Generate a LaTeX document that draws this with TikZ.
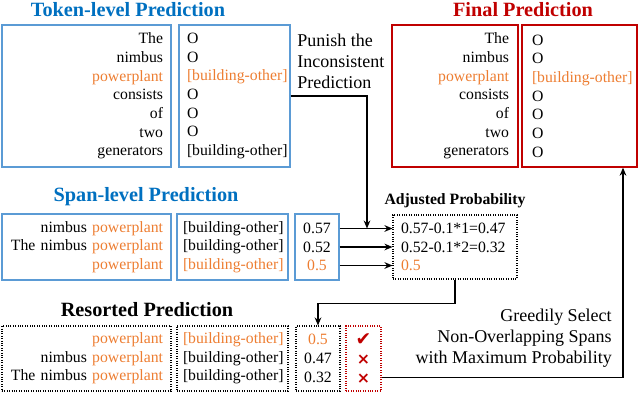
\documentclass[tikz,border=0pt]{standalone}
\usepackage{fontspec}
\setmainfont{Liberation Serif}
\newfontfamily\symfont{DejaVu Sans}
\usetikzlibrary{arrows.meta, calc}
\definecolor{tokblue}{RGB}{0,112,192}
\definecolor{boxblue}{RGB}{91,155,213}
\definecolor{finred}{RGB}{192,0,0}
\definecolor{spanorange}{RGB}{237,125,49}
\newcommand{\hl}[1]{\textcolor{spanorange}{#1}}
\newcommand{\bldg}{\mbox{[building-other]}}
\tikzset{
  body/.style={font=\rmfamily\fontsize{11.8}{14}\selectfont, inner ysep=2pt},
  title/.style={font=\rmfamily\fontsize{15.2}{18}\selectfont\bfseries},
  bluebox/.style={body, draw=boxblue, line width=1pt},
  redbox/.style={body, draw=finred, line width=1pt},
  dotbox/.style={body, draw=black, densely dotted, line width=0.8pt},
  note/.style={font=\rmfamily\fontsize{13.5}{15.75}\selectfont, inner sep=0pt},
  flow/.style={-{Stealth[length=6pt,width=5pt]}, line width=1pt},
}
\begin{document}
\begin{tikzpicture}[x=0.75pt, y=-0.75pt]
  \useasboundingbox (0,0) rectangle (640,394);

  % Token-level prediction
  \node[title, text=tokblue] (tokTitle) at (128,10) {Token-level Prediction};
  \node[bluebox, text width=114.75pt, inner xsep=6pt, minimum height=106.5pt, align=right] (tokWords) at (86.5,96)
    {The\\nimbus\\\hl{powerplant}\\consists\\of\\two\\generators};
  \node[bluebox, text width=71.25pt, inner xsep=6pt, minimum height=106.5pt, align=left] (tokTags) at (234.5,96)
    {O\\O\\\hl{\bldg}\\O\\O\\O\\\bldg};

  % Final prediction
  \node[title, text=finred] (finTitle) at (523,10) {Final Prediction};
  \node[redbox, text width=81pt, inner xsep=6.75pt, minimum height=106.5pt, align=right] (finWords) at (455,96)
    {The\\nimbus\\\hl{powerplant}\\consists\\of\\two\\generators};
  \node[redbox, text width=71.25pt, inner xsep=7.5pt, minimum height=106.5pt, align=left] (finTags) at (579.5,96)
    {O\\O\\\hl{\bldg}\\O\\O\\O\\O};

  % Span-level prediction
  \node[title, text=tokblue] (spanTitle) at (146,197) {Span-level Prediction};
  \node[bluebox, text width=114.75pt, inner xsep=6pt, minimum height=49.5pt, align=right] (spanWords) at (86.5,247)
    {nimbus \hl{powerplant}\\The nimbus \hl{powerplant}\\\hl{powerplant}};
  \node[bluebox, text width=74.25pt, inner xsep=4.5pt, minimum height=49.5pt, align=left] (spanTags) at (232.5,247)
    {\bldg\\\bldg\\\hl{\bldg}};
  \node[bluebox, text width=27pt, inner xsep=3pt, minimum height=49.5pt, align=center] (spanProb) at (317,247)
    {0.57\\0.52\\\hl{0.5}};

  % Adjusted probability
  \node[font=\rmfamily\fontsize{11.8}{14}\selectfont\bfseries] (adjTitle) at (455,201) {Adjusted Probability};
  \node[dotbox, text width=81pt, inner xsep=6pt, minimum height=48pt, align=left] (adjProb) at (455,247)
    {\mbox{0.57-0.1*1=0.47}\\\mbox{0.52-0.1*2=0.32}\\\hl{0.5}};

  % Resorted prediction
  \node[title] (resTitle) at (147,310) {Resorted Prediction};
  \node[dotbox, text width=114.75pt, inner xsep=6pt, minimum height=48.75pt, align=right] (resWords) at (86.5,358.5)
    {\hl{powerplant}\\nimbus \hl{powerplant}\\The nimbus \hl{powerplant}};
  \node[dotbox, text width=74.25pt, inner xsep=4.5pt, minimum height=48.75pt, align=left] (resTags) at (232.5,358.5)
    {\hl{\bldg}\\\bldg\\\bldg};
  \node[dotbox, text width=27pt, inner xsep=3pt, minimum height=48.75pt, align=center] (resProb) at (318,358.5)
    {\hl{0.5}\\0.47\\0.32};
  \node[dotbox, draw=finred, text=finred, text width=20.25pt, inner xsep=3pt, minimum height=48.75pt, align=center] (resCheck) at (363.5,358.5)
    {{\symfont\fontsize{14}{14}\selectfont ✔}\\{\symfont\bfseries ×}\\{\symfont\bfseries ×}};

  % Notes
  \node[note, anchor=west, align=left] (punishNote) at (297,61) {Punish the\\Inconsistent\\Prediction};
  \node[note, anchor=east, align=right] (greedyNote) at (612,338) {Greedily Select\\Non-Overlapping Spans\\with Maximum Probability};

  % Connectors
  \coordinate (hit) at (367,228.5);
  \draw[flow] (tokTags.east) -| (hit);
  \foreach \d in {-18.5, 0, 18.5}
    \draw[flow] ($(spanProb.east)+(0,\d)$) -- ($(adjProb.west)+(0,\d)$);
  \draw[flow] (adjProb.south) -- ++(0,24) -| (resProb.north);
  \coordinate (turn) at (623,377.5);
  \draw[flow] (resCheck.east |- turn) -- (turn) -- (turn |- finTags.south);
\end{tikzpicture}
\end{document}
